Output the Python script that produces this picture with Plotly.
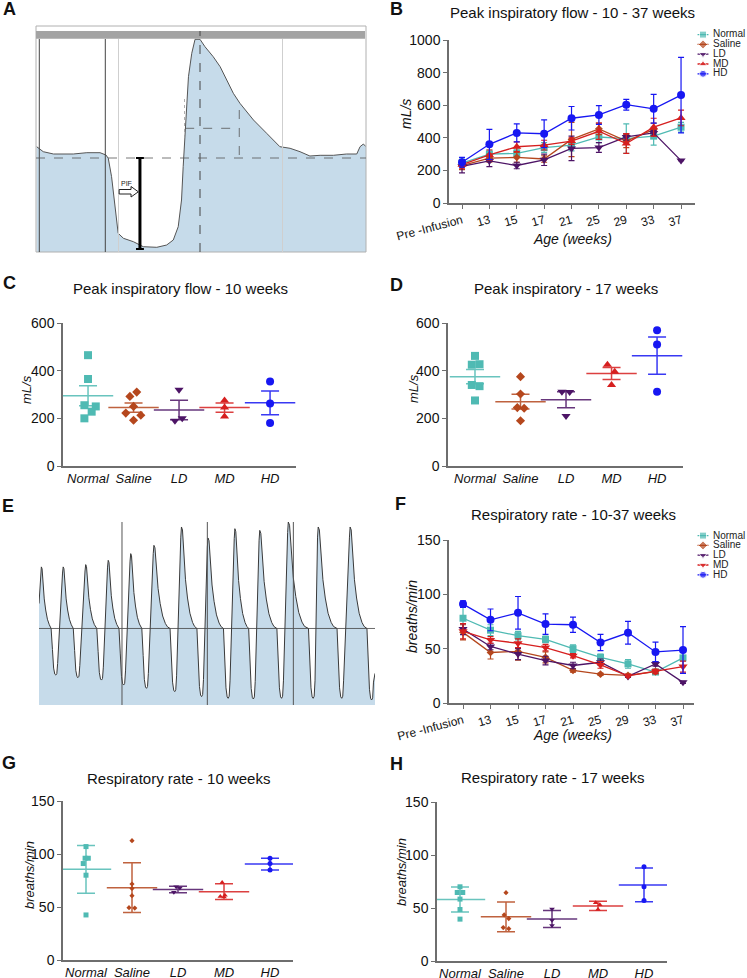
import plotly.graph_objects as go

W, H = 747, 978
FONT = "Arial, Liberation Sans, sans-serif"

def px(x):
    return x / W

def py(y):
    return 1 - y / H

GROUPS = ["Normal", "Saline", "LD", "MD", "HD"]
COL = {"Normal": "#4fbab3", "Saline": "#b5471d", "LD": "#4d1466", "MD": "#d61f1f", "HD": "#1717f2"}

# ---------------- Panel A: single breath flow trace (time %, flow units) ----------------
A_T = [0.2, 2.2, 5.3, 11.3, 15.4, 19.4, 21.2, 21.9, 22.9, 23.9, 24.9, 26.5, 29.5, 32.5, 36.6, 39.6,
       41.6, 43.1, 44.1, 44.6, 45.2, 45.7, 46.2, 47.2, 48.2, 49.7, 51.2, 53.7, 55.8, 57.8, 59.8,
       61.8, 65.9, 69.9, 73.9, 77.0, 80.0, 83.0, 86.1, 90.1, 94.1, 97.2, 98.2, 99.2, 100.0]
A_V = [11.3, 6.3, 4.0, 4.0, 5.3, 5.3, 3.0, -0.3, -18.7, -48.7, -75.3, -80.3, -83.7, -88.7, -89.3, -87.0,
       -82.0, -68.7, -42.0, -8.7, 24.7, 58.0, 81.3, 104.7, 118.7, 118.7, 111.3, 101.3, 91.3, 78.0, 64.7,
       54.7, 38.0, 24.7, 11.3, 9.7, 6.3, 2.0, 2.7, 2.7, 4.0, 4.0, 11.3, 14.0, 11.3]
A_BOTTOM, A_TOP = -94, 132

# ---------------- Panel E: breathing trace peaks / troughs ----------------
E_PEAK_T = [0.7, 7.2, 13.9, 20.6, 27.3, 34.2, 42.4, 50.3, 58.3, 65.7, 74.2, 83.1, 92.6]
E_PEAK_V = [61.7, 61.7, 64.0, 68.3, 75.0, 83.3, 101.7, 90.7, 100.0, 98.3, 106.7, 101.7, 101.7]
E_TROUGH_T = [5.0, 11.6, 18.6, 25.2, 32.0, 40.4, 48.4, 56.3, 63.8, 72.2, 81.6, 90.1, 99.0]
E_TROUGH_V = [-46.7, -49.3, -51.7, -56.7, -60.0, -63.3, -68.3, -70.0, -70.7, -70.0, -70.0, -70.0, -71.7]
E_BOTTOM, E_TOP = -76.7, 106.7
E_MARKS = [24.7, 50.1, 75.7]

# ---------------- Panel B: peak inspiratory flow over age ----------------
AGE_LABELS = ["Pre -Infusion", "13", "15", "17", "21", "25", "29", "33", "37"]
PIF_MEAN = {
    "Normal": [245, 300, 305, 340, 355, 405, 395, 410, 465],
    "Saline": [230, 275, 280, 270, 390, 455, 380, 450, None],
    "LD":     [225, 258, 230, 265, 335, 340, 405, 430, 260],
    "MD":     [235, 295, 345, 355, 380, 440, 365, 465, 522],
    "HD":     [250, 360, 430, 425, 520, 540, 603, 578, 662],
}
PIF_SEM = {
    "Normal": [25, 25, 25, 30, 35, 35, 90, 55, 30],
    "Saline": [25, 25, 30, 20, 105, 35, 40, 40, 0],
    "LD":     [40, 35, 20, 35, 75, 30, 20, 15, 0],
    "MD":     [25, 30, 30, 30, 20, 50, 60, 55, 48],
    "HD":     [30, 92, 55, 85, 72, 58, 33, 88, 232],
}

# ---------------- Panel F: respiratory rate over age ----------------
RR_MEAN = {
    "Normal": [78, 67, 62, 58.5, 50, 42, 36, 28.5, 41.5],
    "Saline": [65, 46.5, 47.5, 42, 30, 26.5, 25.5, 29, None],
    "LD":     [68, 52, 45, 39, 34.5, 37.5, 24.5, 36, 19],
    "MD":     [66, 58, 55, 51, 43.5, 35, 25, 29, 33.5],
    "HD":     [91, 76.5, 83, 72.6, 72, 55.7, 64.6, 47, 48.7],
}
RR_SEM = {
    "Normal": [10, 5, 4, 3, 3.5, 3, 4, 2, 8],
    "Saline": [7, 6, 8, 5, 1.5, 1, 1, 2, 0],
    "LD":     [5, 3, 5, 4, 3, 3, 1, 2, 1],
    "MD":     [7, 3, 4, 3, 2, 3, 1, 2, 5],
    "HD":     [3, 10, 15, 9.5, 7, 7.5, 10.5, 9, 21.5],
}

# ---------------- Panel C: PIF at 10 weeks ----------------
PIF10_PTS = {
    "Normal": [465, 365, 255, 250, 228, 200],
    "Saline": [310, 292, 250, 222, 213, 192],
    "LD": [320, 200, 190],
    "MD": [275, 245, 208],
    "HD": [355, 262, 180],
}
PIF10_MEAN = [295, 245, 235, 245, 265]
PIF10_ERR = [42, 19, 41, 19, 50]

# ---------------- Panel D: PIF at 17 weeks ----------------
PIF17_PTS = {
    "Normal": [462, 427, 425, 340, 335, 275],
    "Saline": [375, 302, 245, 242, 190],
    "LD": [312, 310, 210],
    "MD": [425, 395, 340],
    "HD": [570, 510, 312],
}
PIF17_MEAN = [375, 270, 278, 388, 463]
PIF17_ERR = [30, 31, 34, 25, 78]

# ---------------- Panel G: RR at 10 weeks ----------------
RR10_PTS = {
    "Normal": [107, 96, 96, 91, 80, 42.5],
    "Saline": [112.6, 71.7, 67.5, 60.7, 49.4, 49],
    "LD": [69, 68, 64],
    "MD": [73, 61, 60, 59.5],
    "HD": [96, 91, 85],
}
RR10_MEAN = [85.5, 68.2, 66.5, 64.5, 90.5]
RR10_ERR = [22.5, 23.5, 3, 7.5, 5.5]

# ---------------- Panel H: RR at 17 weeks ----------------
RR17_PTS = {
    "Normal": [70, 64.6, 64.6, 58.4, 48.6, 39.5],
    "Saline": [64.5, 43.5, 40, 31.5, 30.5],
    "LD": [49, 38.5, 33.5],
    "MD": [55, 53, 48.5],
    "HD": [89, 70, 57],
}
RR17_MEAN = [58, 41.7, 39.7, 52, 71.8]
RR17_ERR = [11.8, 14, 8, 4.3, 16]

# horizontal spread of dots inside each category (styling only)
JIT = {
    "C": {"Normal": [0, 0, -0.08, 0.17, 0.08, -0.08], "Saline": [0.07, -0.08, 0, -0.17, 0.16, 0],
          "LD": [0, 0.07, -0.09], "MD": [0, 0, 0], "HD": [0, 0, 0]},
    "D": {"Normal": [0, 0.1, -0.07, -0.07, 0.1, 0], "Saline": [0, 0, -0.07, 0.08, 0],
          "LD": [-0.09, 0.08, 0], "MD": [-0.09, 0.07, 0], "HD": [0, 0, 0]},
    "G": {"Normal": [0, -0.02, 0.05, -0.06, 0, 0], "Saline": [0, 0, 0, 0, -0.065, 0.06],
          "LD": [-0.04, 0.04, -0.09], "MD": [-0.04, 0.02, -0.08, 0], "HD": [0, 0, 0]},
    "H": {"Normal": [0, -0.06, 0.06, 0, 0, 0], "Saline": [0, -0.04, 0.06, -0.06, 0.06],
          "LD": [0, 0, 0], "MD": [-0.05, 0.04, 0], "HD": [0, 0, 0]},
}

SYM_B = {"Normal": "square", "Saline": "diamond", "LD": "triangle-down", "MD": "triangle-up", "HD": "circle"}
SYM_F = {"Normal": "square", "Saline": "diamond", "LD": "triangle-down", "MD": "triangle-down", "HD": "circle"}
SIZE_B = {"Normal": 7, "Saline": 6, "LD": 8, "MD": 8, "HD": 8}

fig = go.Figure()

# ---------- Panel A ----------
fig.add_trace(go.Scatter(x=A_T + [A_T[-1], A_T[0]], y=A_V + [A_BOTTOM, A_BOTTOM], fill="toself",
                         fillcolor="#c6dbea", mode="lines", line=dict(width=0),
                         xaxis="x", yaxis="y", hoverinfo="skip"))
fig.add_trace(go.Scatter(x=A_T, y=A_V, mode="lines", line=dict(color="#555555", width=1),
                         xaxis="x", yaxis="y", hoverinfo="skip"))

# ---------- Panel E ----------
DECAY = [(0, 1.0), (0.05, 0.97), (0.12, 0.7), (0.2, 0.48), (0.3, 0.3), (0.42, 0.15), (0.55, 0.06), (0.65, 0.02)]
TROUGH = [(-1.4, 0.0), (-1.0, 0.45), (-0.65, 0.85), (-0.3, 0.98), (0.0, 1.0), (0.3, 0.97), (0.55, 0.75)]
et, ev = [0.0, 0.4], [25.0, 0.85 * E_PEAK_V[0]]
for i in range(len(E_PEAK_T)):
    tp, P, tt, T = E_PEAK_T[i], E_PEAK_V[i], E_TROUGH_T[i], E_TROUGH_V[i]
    if i > 0:
        et.append(tp - 0.2); ev.append(0.9 * P)
    gap = tt - tp
    for f, a in DECAY:
        et.append(tp + f * gap); ev.append(a * P)
    for dt, a in TROUGH:
        et.append(tt + dt); ev.append(a * T)
et.append(100.0); ev.append(-45.0)
fig.add_trace(go.Scatter(x=et + [100, 0], y=ev + [E_BOTTOM, E_BOTTOM], fill="toself",
                         fillcolor="#c6dbea", mode="lines", line=dict(width=0),
                         xaxis="x5", yaxis="y5", hoverinfo="skip"))
fig.add_trace(go.Scatter(x=et, y=ev, mode="lines", line=dict(color="#3a3a3a", width=1),
                         xaxis="x5", yaxis="y5", hoverinfo="skip"))


def line_panel(means, sems, syms, xa, ya):
    for g in GROUPS:
        fig.add_trace(go.Scatter(
            x=list(range(len(AGE_LABELS))), y=means[g], mode="lines+markers",
            line=dict(color=COL[g], width=1.3),
            marker=dict(symbol=syms[g], size=SIZE_B[g], color=COL[g]),
            error_y=dict(type="data", array=sems[g], color=COL[g], thickness=1.2, width=3),
            xaxis=xa, yaxis=ya, hoverinfo="skip", connectgaps=False))


line_panel(PIF_MEAN, PIF_SEM, SYM_B, "x2", "y2")
line_panel(RR_MEAN, RR_SEM, SYM_F, "x6", "y6")


def dot_panel(pts, means, errs, jit, xa, ya, msize, mean_w, cap_w):
    for i, g in enumerate(GROUPS):
        fig.add_trace(go.Scatter(
            x=[i], y=[means[i]], mode="markers",
            marker=dict(symbol="line-ew", size=mean_w, color=COL[g],
                        line=dict(color=COL[g], width=1.5)),
            error_y=dict(type="data", array=[errs[i]], color=COL[g], thickness=1.5, width=cap_w),
            opacity=0.85, xaxis=xa, yaxis=ya, hoverinfo="skip"))
        fig.add_trace(go.Scatter(
            x=[i + o for o in jit[g]], y=pts[g], mode="markers",
            marker=dict(symbol=SYM_B[g], size=msize if g != "Saline" else msize - 1, color=COL[g]),
            xaxis=xa, yaxis=ya, hoverinfo="skip"))


dot_panel(PIF10_PTS, PIF10_MEAN, PIF10_ERR, JIT["C"], "x3", "y3", 8, 36, 9)
dot_panel(PIF17_PTS, PIF17_MEAN, PIF17_ERR, JIT["D"], "x4", "y4", 8, 36, 9)
dot_panel(RR10_PTS, RR10_MEAN, RR10_ERR, JIT["G"], "x7", "y7", 5, 36, 9)
dot_panel(RR17_PTS, RR17_MEAN, RR17_ERR, JIT["H"], "x8", "y8", 5, 36, 9)

# ---------- custom legends ----------
LEG_ROWS = {"B": 34, "F": 535}
for (xa, ya, syms, key) in [("x9", "y9", SYM_B, "B"), ("x10", "y10", SYM_F, "F")]:
    for i, g in enumerate(GROUPS):
        fig.add_trace(go.Scatter(x=[0, 1, 2], y=[i, i, i], mode="lines+markers",
                                 line=dict(color=COL[g], width=1.3),
                                 marker=dict(symbol=syms[g], size=[0, 7, 0], color=COL[g]),
                                 xaxis=xa, yaxis=ya, hoverinfo="skip"))
        fig.add_annotation(x=px(711.5), y=py(LEG_ROWS[key] + 9.75 * i), xref="paper", yref="paper",
                           text=g, showarrow=False, xanchor="left", yanchor="middle",
                           borderpad=0, font=dict(size=10, color="#222", family=FONT))

AX = dict(showgrid=False, zeroline=False, showline=True, linecolor="#6e6e6e", linewidth=1.5,
          ticks="outside", ticklen=4, tickcolor="#6e6e6e", tickwidth=1.2, automargin=False,
          tickfont=dict(size=14, color="#111", family=FONT))
HIDDEN = dict(visible=False, showgrid=False, zeroline=False, fixedrange=True, automargin=False)

cat_text = ["<i>%s</i>" % g for g in GROUPS]
age_x = dict(AX, tickvals=list(range(9)), ticktext=AGE_LABELS, tickangle=-15,
             tickfont=dict(size=12, color="#111", family=FONT))
cat_x = dict(AX, tickvals=list(range(5)), ticktext=cat_text, ticks="",
             tickfont=dict(size=13, color="#111", family=FONT))

layout = dict(
    width=W, height=H, autosize=False, margin=dict(l=0, r=0, t=0, b=0, pad=0), showlegend=False,
    paper_bgcolor="white", plot_bgcolor="white", font=dict(family=FONT, color="#111"),
    # A
    xaxis=dict(HIDDEN, domain=[px(36), px(366)], range=[0, 100]),
    yaxis=dict(HIDDEN, domain=[py(252), py(26)], range=[A_BOTTOM, A_TOP]),
    # B
    xaxis2=dict(age_x, domain=[px(449), px(695)], range=[-0.475, 8.51], anchor="y2"),
    yaxis2=dict(AX, domain=[py(203), py(40)], range=[0, 1000], dtick=200, anchor="x2"),
    # C
    xaxis3=dict(cat_x, domain=[px(63), px(296)], range=[-0.55, 4.57], anchor="y3"),
    yaxis3=dict(AX, domain=[py(466), py(323)], range=[0, 600], dtick=200, anchor="x3"),
    # D
    xaxis4=dict(cat_x, domain=[px(448), px(683)], range=[-0.593, 4.57], anchor="y4"),
    yaxis4=dict(AX, domain=[py(466), py(323)], range=[0, 600], dtick=200, anchor="x4"),
    # E
    xaxis5=dict(HIDDEN, domain=[px(39), px(375)], range=[0, 100]),
    yaxis5=dict(HIDDEN, domain=[py(705), py(522)], range=[E_BOTTOM, E_TOP]),
    # F
    xaxis6=dict(age_x, domain=[px(449), px(694)], range=[-0.51, 8.4], anchor="y6"),
    yaxis6=dict(AX, domain=[py(703), py(540)], range=[0, 150], dtick=50, anchor="x6"),
    # G
    xaxis7=dict(cat_x, domain=[px(63), px(293)], range=[-0.5, 4.5], anchor="y7"),
    yaxis7=dict(AX, domain=[py(960), py(801)], range=[0, 150], dtick=50, anchor="x7"),
    # H
    xaxis8=dict(cat_x, domain=[px(437), px(667)], range=[-0.5, 4.5], anchor="y8"),
    yaxis8=dict(AX, domain=[py(961), py(802)], range=[0, 150], dtick=50, anchor="x8"),
    # legends
    xaxis9=dict(HIDDEN, domain=[px(697), px(709)], range=[-0.1, 2.1]),
    yaxis9=dict(HIDDEN, domain=[py(78.7), py(29.7)], range=[4.5, -0.5]),
    xaxis10=dict(HIDDEN, domain=[px(697), px(709)], range=[-0.1, 2.1]),
    yaxis10=dict(HIDDEN, domain=[py(579.7), py(530.7)], range=[4.5, -0.5]),
)
fig.update_layout(**layout)

# ---------- decorations for panel A and E ----------
shapes = [
    dict(type="rect", xref="x domain", yref="y domain", x0=0, x1=1, y0=0, y1=1,
         line=dict(color="#b0b0b0", width=1)),
    dict(type="rect", xref="x", yref="y", x0=0, x1=99.7, y0=119.3, y1=127,
         fillcolor="#a3a3a3", line=dict(width=0)),
    dict(type="line", xref="x", yref="y", x0=1, x1=1, y0=A_BOTTOM, y1=119, line=dict(color="#444", width=1)),
    dict(type="line", xref="x", yref="y", x0=21, x1=21, y0=A_BOTTOM, y1=119, line=dict(color="#444", width=1)),
    dict(type="line", xref="x", yref="y", x0=25, x1=25, y0=A_BOTTOM, y1=119, line=dict(color="#cfcfcf", width=1)),
    dict(type="line", xref="x", yref="y", x0=74.7, x1=74.7, y0=A_BOTTOM, y1=119, line=dict(color="#cfcfcf", width=1)),
    dict(type="line", xref="x", yref="y", x0=49.7, x1=49.7, y0=A_BOTTOM, y1=127,
         line=dict(color="#444", width=1, dash="dash")),
    dict(type="line", xref="x", yref="y", x0=0, x1=100, y0=0, y1=0, line=dict(color="#555", width=0.8, dash="dash")),
    dict(type="line", xref="x", yref="y", x0=45.2, x1=61.6, y0=29.7, y1=29.7, line=dict(color="#555", width=0.8, dash="dash")),
    dict(type="line", xref="x", yref="y", x0=61.6, x1=61.6, y0=3, y1=54.7, line=dict(color="#555", width=0.8, dash="dash")),
    dict(type="line", xref="x", yref="y", x0=45, x1=45, y0=20, y1=60, line=dict(color="#999", width=0.8, dash="dot")),
    dict(type="line", xref="x", yref="y", x0=31.5, x1=31.5, y0=0, y1=-91, line=dict(color="black", width=3)),
    dict(type="line", xref="x", yref="y", x0=30.3, x1=32.7, y0=0, y1=0, line=dict(color="black", width=2)),
    dict(type="line", xref="x", yref="y", x0=30.3, x1=32.7, y0=-91, y1=-91, line=dict(color="black", width=2)),
    dict(type="path", xref="x", yref="y",
         path="M 25.2,-31.5 L 28.8,-31.5 L 28.8,-28.5 L 31,-33.8 L 28.8,-39 L 28.8,-36 L 25.2,-36 Z",
         fillcolor="white", line=dict(color="#222", width=1)),
    dict(type="line", xref="x5", yref="y5", x0=0, x1=100, y0=0, y1=0, line=dict(color="#444", width=0.8)),
]
for m in E_MARKS:
    shapes.append(dict(type="line", xref="x5", yref="y5", x0=m, x1=m, y0=E_BOTTOM, y1=E_TOP,
                       line=dict(color="#555", width=1)))
fig.update_layout(shapes=shapes)

fig.add_annotation(x=27.5, y=-25, xref="x", yref="y", text="PIF", showarrow=False,
                   font=dict(size=7, color="#222"))

# ---------- titles, letters, axis titles ----------
def ann(x, y, text, size, bold=False, angle=0, anchor="center"):
    fig.add_annotation(x=px(x), y=py(y), xref="paper", yref="paper", text=text, showarrow=False,
                       textangle=angle, xanchor=anchor, yanchor="middle",
                       font=dict(size=size, color="#111", family=FONT,
                                 weight="bold" if bold else "normal"))

for letter, x, y in [("A", 9, 9), ("B", 396, 9), ("C", 9, 283), ("D", 396, 285),
                     ("E", 8, 506), ("F", 400, 504), ("G", 9, 763), ("H", 397, 764)]:
    ann(x, y, letter, 18, bold=True)

ann(572, 12, "Peak inspiratory flow - 10 - 37 weeks", 15)
ann(180, 288, "Peak inspiratory flow - 10 weeks", 15)
ann(566, 288, "Peak inspiratory - 17 weeks", 15)
ann(573, 514, "Respiratory rate - 10-37 weeks", 15)
ann(178, 778, "Respiratory rate - 10 weeks", 15)
ann(552, 777, "Respiratory rate - 17 weeks", 15)

ann(406, 114, "<i>mL/s</i>", 14, angle=-90)
ann(27, 390, "<i>mL/s</i>", 13, angle=-90)
ann(413, 389, "<i>mL/s</i>", 13, angle=-90)
ann(412, 617, "<i>breaths/min</i>", 14, angle=-90)
ann(29, 875, "<i>breaths/min</i>", 13, angle=-90)
ann(401, 872, "<i>breaths/min</i>", 13, angle=-90)
ann(572, 239, "<i>Age (weeks)</i>", 14)
ann(572, 735, "<i>Age (weeks)</i>", 14)

fig.write_html("out.html", config={"responsive": False, "displayModeBar": False},
               post_script="document.body.style.margin='0';document.body.style.padding='0';")
